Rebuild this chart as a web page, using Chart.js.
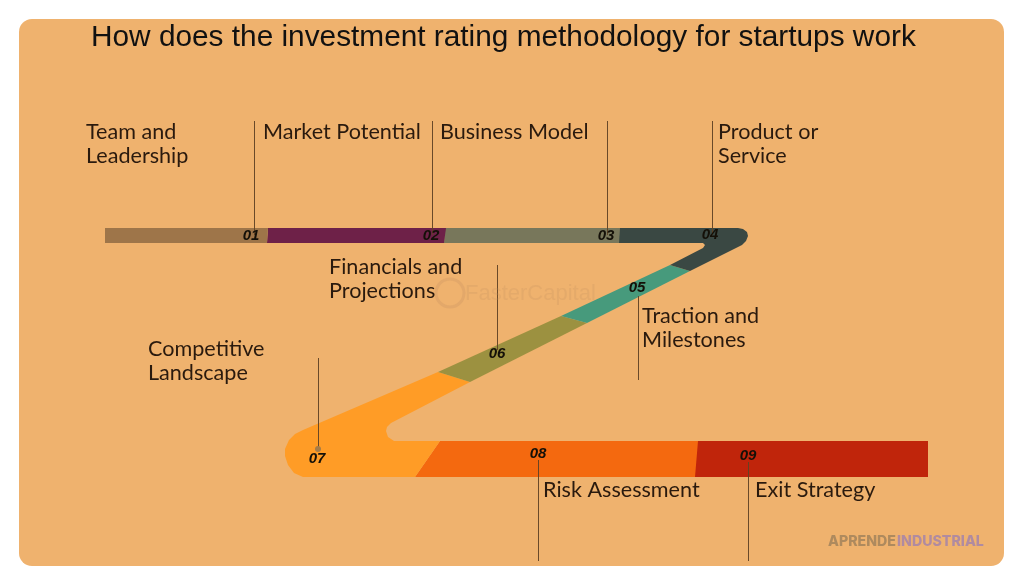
<!DOCTYPE html>
<html>
<head>
<meta charset="utf-8">
<title>Investment rating methodology</title>
<script src="https://cdn.jsdelivr.net/npm/chart.js@4"></script>
<style>
    html, body { margin: 0; padding: 0; background: #ffffff; }
    canvas { display: block; }
</style>
</head>
<body>
<canvas id="chart" width="1024" height="585"></canvas>
<script>
const chartTitle = 'How does the investment rating methodology for startups work';
const stepNames = [
    ['Team and', 'Leadership'],
    ['Market Potential'],
    ['Business Model'],
    ['Product or', 'Service'],
    ['Traction and', 'Milestones'],
    ['Financials and', 'Projections'],
    ['Competitive', 'Landscape'],
    ['Risk Assessment'],
    ['Exit Strategy']
];
const stepCodes = ['01', '02', '03', '04', '05', '06', '07', '08', '09'];
const stepColors = ['#9e7549', '#6e2148', '#78775b', '#3a4843', '#479a7c', '#9c9140', '#ff9c26', '#f4690f', '#c0250b'];

// ribbon outlines, one per step, in picture coordinates
const ribbon01 = [[105, 228], [268, 228], [267, 243], [105, 243]];
const ribbon02 = [[268, 228], [446, 228], [444, 243], [267, 243]];
const ribbon03 = [[445, 228], [620, 228], [619, 243], [444, 243]];
const ribbon04 = [[619, 228], [738, 228], [743, 229], [747, 232], [748, 236], [746, 241], [742, 245], [690, 271], [670, 265], [703, 248], [705, 245], [703, 243], [619, 243]];
const ribbon05 = [[670, 265], [690, 271], [587, 323], [561, 316]];
const ribbon06 = [[561, 316], [587, 323], [470, 382], [438, 372]];
const ribbon07 = [[438, 372], [470, 382], [391, 423], [387, 427], [386, 431], [388, 437], [394, 441], [440, 441], [415, 477], [303, 477], [294, 473], [288, 465], [285, 456], [285, 449], [289, 440], [295, 434], [303, 430]];
const ribbon08 = [[440, 441], [698, 441], [695, 477], [415, 477]];
const ribbon09 = [[697, 441], [928, 441], [928, 477], [694, 477]];
const ribbons = [ribbon01, ribbon02, ribbon03, ribbon04, ribbon05, ribbon06, ribbon07, ribbon08, ribbon09];

// x, top, bottom of each thin leader line
const leaders = [
    [254.5, 121, 235], [432.5, 121, 235], [607.5, 121, 235], [712.5, 121, 235],
    [638.5, 296, 380], [497.5, 265, 350], [318.5, 358, 449], [538.5, 460, 561], [748.5, 462, 561]
];
const leaderDot = [[318, 449]];

const nameAnchors = [[86, 132], [263, 132], [440, 132], [718, 132], [642, 316], [329, 267], [148, 349], [543, 490], [755, 490]];
const codeAnchors = [[251, 236], [431, 236], [606, 236], [710, 235], [637, 288], [497, 354], [317, 459], [538, 454], [748, 456]];
const cardBox = [19, 19, 1004, 566];
const watermarkRing = [[450, 293]];

function toPoints(list) {
    return list.map(p => ({ x: p[0], y: p[1] }));
}

const ribbonSets = ribbons.map((outline, i) => ({
    data: toPoints(outline),
    showLine: true,
    fill: 'shape',
    backgroundColor: stepColors[i],
    borderWidth: 0,
    borderDash: [1, 0],
    pointRadius: 0
}));

const leaderSets = leaders.map(l => ({
    data: toPoints([[l[0], l[1]], [l[0], l[2]]]),
    showLine: true,
    borderColor: 'rgba(96, 66, 36, 0.6)',
    borderWidth: 1,
    pointRadius: 0
}));

const cardAndText = {
    id: 'cardAndText',
    beforeDraw(chart) {
        const ctx = chart.ctx;
        const sx = chart.scales.x;
        const sy = chart.scales.y;
        const left = sx.getPixelForValue(cardBox[0]);
        const top = sy.getPixelForValue(cardBox[1]);
        const right = sx.getPixelForValue(cardBox[2]);
        const bottom = sy.getPixelForValue(cardBox[3]);
        ctx.save();
        ctx.fillStyle = '#efb26e';
        ctx.beginPath();
        ctx.roundRect(left, top, right - left, bottom - top, 13);
        ctx.fill();
        ctx.restore();
    },
    afterDraw(chart) {
        const ctx = chart.ctx;
        const sx = chart.scales.x;
        const sy = chart.scales.y;
        ctx.save();
        ctx.textBaseline = 'middle';

        ctx.font = '29.8px "Liberation Sans"';
        ctx.fillStyle = '#111111';
        ctx.fillText(chartTitle, sx.getPixelForValue(91), sy.getPixelForValue(38));

        ctx.font = '21.6px Lato';
        ctx.fillStyle = '#2a1a0e';
        stepNames.forEach((lines, i) => {
            lines.forEach((line, k) => {
                ctx.fillText(line, sx.getPixelForValue(nameAnchors[i][0]), sy.getPixelForValue(nameAnchors[i][1] + k * 24));
            });
        });

        ctx.font = 'italic bold 15px "Liberation Sans"';
        ctx.fillStyle = '#141008';
        ctx.textAlign = 'center';
        stepCodes.forEach((code, i) => {
            ctx.fillText(code, sx.getPixelForValue(codeAnchors[i][0]), sy.getPixelForValue(codeAnchors[i][1]));
        });

        ctx.textAlign = 'left';
        ctx.font = '22px "Liberation Sans"';
        ctx.fillStyle = 'rgba(190, 140, 95, 0.22)';
        ctx.fillText('FasterCapital', sx.getPixelForValue(465), sy.getPixelForValue(294));

        ctx.font = '800 14.2px Inter';
        ctx.fillStyle = '#ae8a5e';
        ctx.fillText('APRENDE', sx.getPixelForValue(828), sy.getPixelForValue(542));
        ctx.fillStyle = '#b08ba0';
        ctx.fillText('INDUSTRIAL', sx.getPixelForValue(897), sy.getPixelForValue(542));
        ctx.restore();
    }
};

new Chart(document.getElementById('chart').getContext('2d'), {
    type: 'scatter',
    data: {
        datasets: [
            ...leaderSets,
            ...ribbonSets,
            {
                data: toPoints(leaderDot),
                pointRadius: 3,
                backgroundColor: '#a57c48',
                borderWidth: 0,
                order: -1
            },
            {
                data: toPoints(watermarkRing),
                pointRadius: 14,
                backgroundColor: 'rgba(0, 0, 0, 0)',
                borderColor: 'rgba(190, 140, 95, 0.25)',
                borderWidth: 3,
                order: -1
            }
        ]
    },
    options: {
        responsive: false,
        animation: false,
        layout: { padding: 0, autoPadding: false },
        scales: {
            x: { type: 'linear', min: 0, max: 1024, display: false },
            y: { type: 'linear', min: 0, max: 585, reverse: true, display: false }
        },
        plugins: {
            legend: { display: false },
            tooltip: { enabled: false }
        }
    },
    plugins: [cardAndText]
});
</script>
</body>
</html>
